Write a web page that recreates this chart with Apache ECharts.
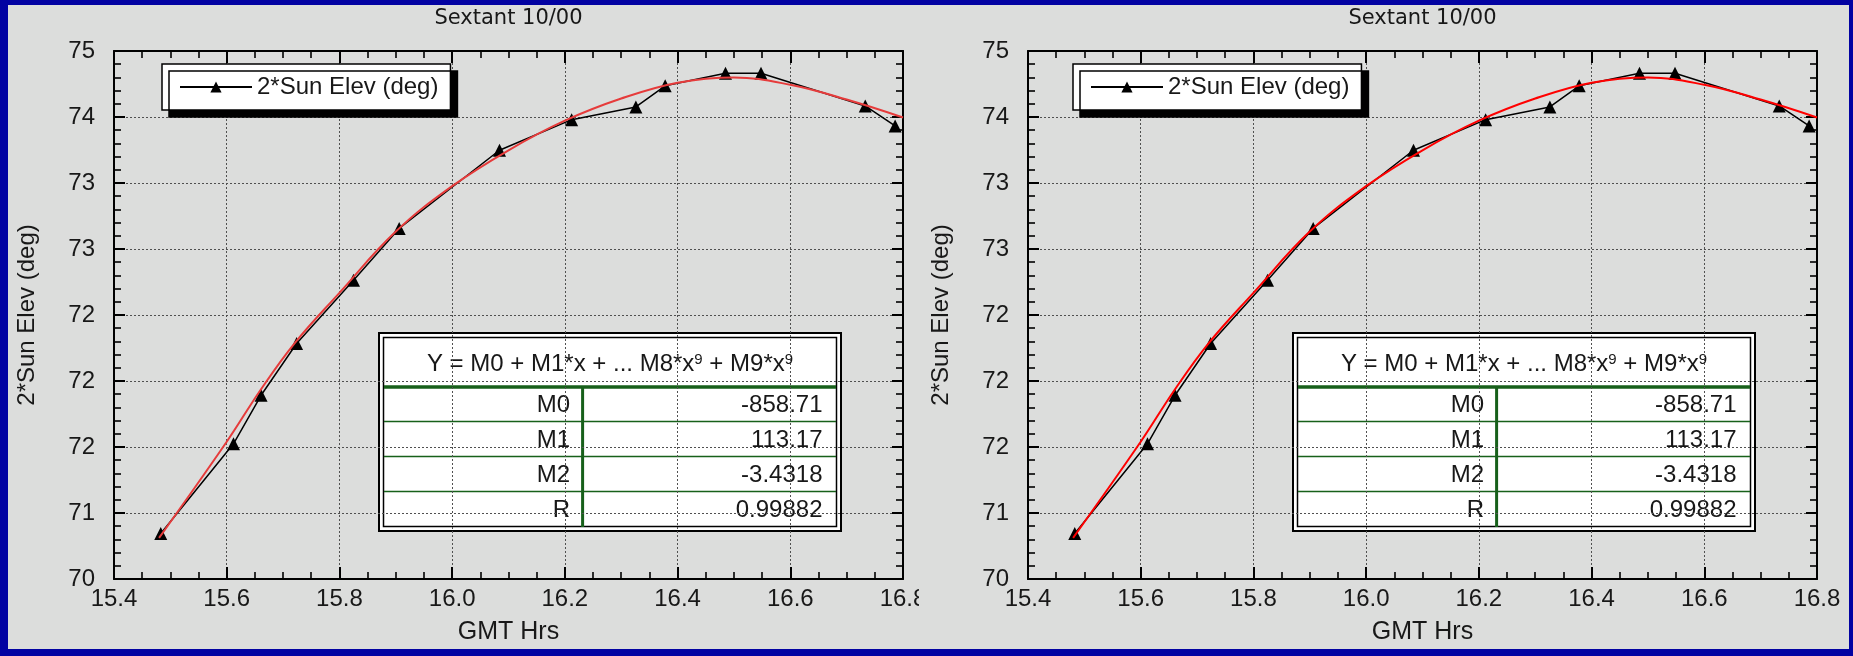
<!DOCTYPE html>
<html><head><meta charset="utf-8">
<script src="https://cdn.jsdelivr.net/npm/echarts@6.0.0/dist/echarts.min.js"></script>
<style>
html,body{margin:0;padding:0;width:1853px;height:656px;overflow:hidden;background:#0202a2;}
#panel{position:absolute;left:8px;top:5px;width:1841px;height:644px;background:#dcdddc;overflow:hidden;}
#c1{position:absolute;left:0;top:0;width:911px;height:644px;}
#c2{position:absolute;left:911px;top:0;width:930px;height:644px;}
</style></head><body>
<div id="panel"><div id="c1"></div><div id="c2"></div></div>
<script>
// ---- data ----
const chartTitle = 'Sextant 10/00';
const xAxisName = 'GMT Hrs';
const yAxisName = '2*Sun Elev (deg)';
const seriesName = '2*Sun Elev (deg)';
const xTickLabels = ['15.4', '15.6', '15.8', '16.0', '16.2', '16.4', '16.6', '16.8'];
const yTickLabels = ['70', '71', '72', '72', '72', '73', '73', '74', '75'];
const sunTimes = [15.483, 15.612, 15.661, 15.724, 15.825, 15.906, 16.084, 16.212, 16.326, 16.378, 16.485, 16.548, 16.733, 16.786];
const sunElev  = [70.43, 71.28, 71.74, 72.23, 72.83, 73.32, 74.06, 74.35, 74.47, 74.67, 74.79, 74.79, 74.48, 74.29];
const fitTimes = [15.48, 15.6, 15.66, 15.72, 15.8, 15.9, 16.0, 16.1, 16.2, 16.3, 16.4, 16.5, 16.6, 16.7, 16.8];
const fitElev  = [70.39, 71.30, 71.79, 72.23, 72.71, 73.29, 73.72, 74.06, 74.34, 74.55, 74.70, 74.75, 74.68, 74.54, 74.37];
const fitHeader = 'Y = M0 + M1*x + ... M8*x{s|9} + M9*x{s|9}';
const fitNames  = ['M0', 'M1', 'M2', 'R'];
const fitValues = ['-858.71', '113.17', '-3.4318', '0.99882'];

const X_MIN = 15.4, X_MAX = 16.8, X_STEP = 0.2;
const Y_MIN = 70, Y_MAX = 75, Y_STEP = 0.625;

const FONT = "'Liberation Sans', Arial, sans-serif";
const TXT = '#181818';
const GREEN = '#17601a';

function pairs(xs, ys) { return xs.map((x, i) => [x, ys[i]]); }

function makeOption(gl, fitColor) {
  const gt = 46, gw = 789, gh = 528;
  const baseX = {
    type: 'value', min: X_MIN, max: X_MAX, interval: X_STEP,
    axisLine: { show: true, onZero: false, lineStyle: { color: '#000', width: 2 } },
    axisTick: { show: true, inside: true, length: 12, lineStyle: { color: '#000', width: 2 } },
    minorTick: { show: true, splitNumber: 4, length: 7, lineStyle: { color: '#000', width: 1.6 } },
  };
  const baseY = {
    type: 'value', min: Y_MIN, max: Y_MAX, interval: Y_STEP,
    axisLine: { show: true, onZero: false, lineStyle: { color: '#000', width: 2 } },
    axisTick: { show: true, inside: true, length: 11, lineStyle: { color: '#000', width: 2 } },
    minorTick: { show: true, splitNumber: 5, length: 7, lineStyle: { color: '#000', width: 1.6 } },
  };
  const grid = { type: [2, 2], color: '#505050', width: 1 };

  // fit-table geometry (relative to its outer box)
  const tx = gl + 265, ty = gt + 282, tw = 462, th = 198;
  const sepY = [54, 88.5, 123.5, 158.5], innerBottom = 194;
  const divX = 203.6;
  const graphics = [
    { type: 'rect', shape: { x: tx, y: ty, width: tw, height: th }, style: { fill: '#fff', stroke: '#000', lineWidth: 2 } },
    { type: 'rect', shape: { x: tx + 4.5, y: ty + 4.5, width: tw - 9, height: th - 9 }, style: { fill: 'none', stroke: '#000', lineWidth: 1.5 } },
    { type: 'text', style: { text: fitHeader, x: tx + tw / 2, y: ty + 31, textAlign: 'center', textVerticalAlign: 'middle',
        fontSize: 24, fontFamily: FONT, fill: TXT,
        rich: { s: { fontSize: 15, fontFamily: FONT, fill: TXT, verticalAlign: 'top' } } } },
    { type: 'line', shape: { x1: tx + 5, y1: ty + sepY[0], x2: tx + tw - 5, y2: ty + sepY[0] }, style: { stroke: GREEN, lineWidth: 3.5 } },
    { type: 'line', shape: { x1: tx + divX, y1: ty + sepY[0], x2: tx + divX, y2: ty + innerBottom }, style: { stroke: GREEN, lineWidth: 3 } },
  ];
  for (let i = 1; i < sepY.length; i++) {
    graphics.push({ type: 'line', shape: { x1: tx + 5, y1: ty + sepY[i], x2: tx + tw - 5, y2: ty + sepY[i] }, style: { stroke: GREEN, lineWidth: 1.6 } });
  }
  const rowBounds = sepY.concat([innerBottom]);
  fitNames.forEach((name, i) => {
    const cy = ty + (rowBounds[i] + rowBounds[i + 1]) / 2 + 1;
    graphics.push({ type: 'text', style: { text: name, x: tx + 191, y: cy, textAlign: 'right', textVerticalAlign: 'middle', fontSize: 24, fontFamily: FONT, fill: TXT } });
    graphics.push({ type: 'text', style: { text: fitValues[i], x: tx + 443.5, y: cy, textAlign: 'right', textVerticalAlign: 'middle', fontSize: 24, fontFamily: FONT, fill: TXT } });
  });

  return {
    animation: false,
    backgroundColor: 'transparent',
    title: {
      text: chartTitle, left: gl + gw / 2, textAlign: 'center', top: 3, padding: 0,
      textStyle: { fontSize: 21, fontWeight: 'normal', color: TXT, fontFamily: "'DejaVu Sans', sans-serif" }
    },
    legend: {
      data: [seriesName], left: 154, top: 59, orient: 'horizontal', selectedMode: false,
      backgroundColor: '#fff', borderColor: '#000', borderWidth: 1.5, borderRadius: 0,
      padding: [11, 12, 11, 17], itemWidth: 72, itemHeight: 14, itemGap: 0,
      shadowColor: '#000', shadowOffsetX: 7, shadowOffsetY: 7, shadowBlur: 0,
      textStyle: { fontSize: 24, color: TXT, fontFamily: FONT }
    },
    grid: { left: gl, top: gt, width: gw, height: gh, containLabel: false, outerBoundsMode: 'none', show: false },
    xAxis: [
      Object.assign({}, baseX, {
        position: 'bottom', name: xAxisName, nameLocation: 'middle', nameGap: 41,
        nameTextStyle: { fontSize: 25, color: TXT, fontFamily: FONT },
        axisLabel: { show: true, margin: 8, fontSize: 24, color: TXT, fontFamily: FONT,
          formatter: v => xTickLabels[Math.round((v - X_MIN) / X_STEP)] },
        splitLine: { show: true, lineStyle: grid }
      }),
      Object.assign({}, baseX, { position: 'top', axisLabel: { show: false }, splitLine: { show: false } })
    ],
    yAxis: [
      Object.assign({}, baseY, {
        position: 'left', name: yAxisName, nameLocation: 'middle', nameGap: 75, nameRotate: 90,
        nameTextStyle: { fontSize: 24, color: TXT, fontFamily: FONT },
        axisLabel: { show: true, margin: 19, fontSize: 24, color: TXT, fontFamily: FONT,
          formatter: v => yTickLabels[Math.round((v - Y_MIN) / Y_STEP)] },
        splitLine: { show: true, lineStyle: grid }
      }),
      Object.assign({}, baseY, { position: 'right', axisLabel: { show: false }, splitLine: { show: false } })
    ],
    series: [
      { name: seriesName, type: 'line', xAxisIndex: 0, yAxisIndex: 0, data: pairs(sunTimes, sunElev),
        symbol: 'triangle', symbolSize: 13, showAllSymbol: true,
        itemStyle: { color: '#000' }, lineStyle: { color: '#000', width: 1.5 }, z: 3 },
      { name: 'fit', type: 'line', xAxisIndex: 0, yAxisIndex: 0, data: pairs(fitTimes, fitElev),
        symbol: 'none', smooth: 0.4, lineStyle: { color: fitColor, width: 2 }, z: 4 }
    ],
    graphic: graphics
  };
}

const ch1 = echarts.init(document.getElementById('c1'), null, { renderer: 'canvas' });
ch1.setOption(makeOption(106, '#e63b3b'));
const ch2 = echarts.init(document.getElementById('c2'), null, { renderer: 'canvas' });
ch2.setOption(makeOption(109, '#ff0000'));
</script>
</body></html>
